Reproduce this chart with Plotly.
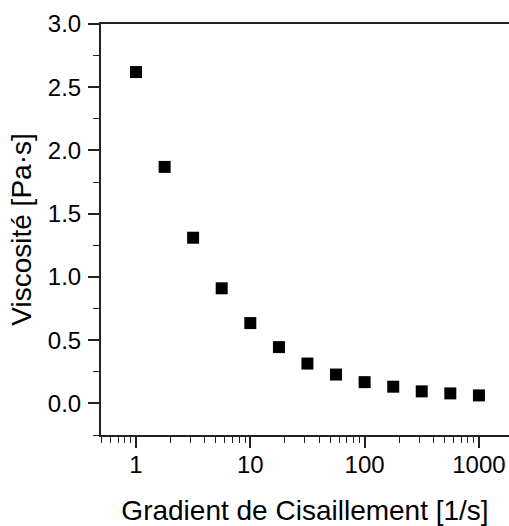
import plotly.graph_objects as go

# shear rate [1/s] and viscosity [Pa.s]
shear_rate = [1, 1.78, 3.16, 5.62, 10, 17.8, 31.6, 56.2, 100, 178, 316, 562, 1000]
viscosity = [2.62, 1.87, 1.31, 0.91, 0.635, 0.445, 0.315, 0.228, 0.168, 0.132, 0.095, 0.079, 0.063]

x_ticks = [1, 10, 100, 1000]
x_ticklabels = ["1", "10", "100", "1000"]
y_ticks = [0.0, 0.5, 1.0, 1.5, 2.0, 2.5, 3.0]

FONT = "Liberation Sans, Arial, sans-serif"

fig = go.Figure()
fig.add_trace(go.Scatter(
    x=shear_rate, y=viscosity, mode="markers",
    marker=dict(symbol="square", size=12, color="black", line=dict(width=0)),
    showlegend=False, cliponaxis=False,
))

fig.update_layout(
    width=509, height=526,
    margin=dict(l=101, r=0, t=24, b=91),
    paper_bgcolor="white", plot_bgcolor="white",
    font=dict(family=FONT, color="black"),
)

fig.update_xaxes(
    type="log", range=[-0.306, 3.263], automargin=False,
    tickvals=x_ticks, ticktext=x_ticklabels,
    ticks="outside", ticklen=11, tickwidth=1.5, tickcolor="#222",
    minor=dict(ticks="outside", ticklen=6, tickwidth=1.2, tickcolor="#222", dtick="D1"),
    showline=True, linecolor="#222", linewidth=2, mirror=True,
    showgrid=False, zeroline=False,
    tickfont=dict(size=24, family=FONT), ticklabelstandoff=-4,
    title=dict(text="Gradient de Cisaillement [1/s]", font=dict(size=28, family=FONT), standoff=25),
)

fig.update_yaxes(
    range=[-0.25, 3.0], automargin=False,
    tickvals=y_ticks, tickformat=".1f",
    ticks="outside", ticklen=11, tickwidth=1.5, tickcolor="#222",
    minor=dict(ticks="outside", ticklen=6, tickwidth=1.2, tickcolor="#222", dtick=0.25),
    showline=True, linecolor="#222", linewidth=2, mirror=False,
    showgrid=False, zeroline=False,
    tickfont=dict(size=24, family=FONT), ticklabelstandoff=2,
    title=dict(text="Viscosité [Pa·s]", font=dict(size=28, family=FONT), standoff=8),
)

# drop the default page margin so the figure sits at the window's corner
fig.write_html(
    "out.html",
    config={"displayModeBar": False},
    post_script="document.body.style.margin='0';document.body.style.overflow='hidden';",
)
